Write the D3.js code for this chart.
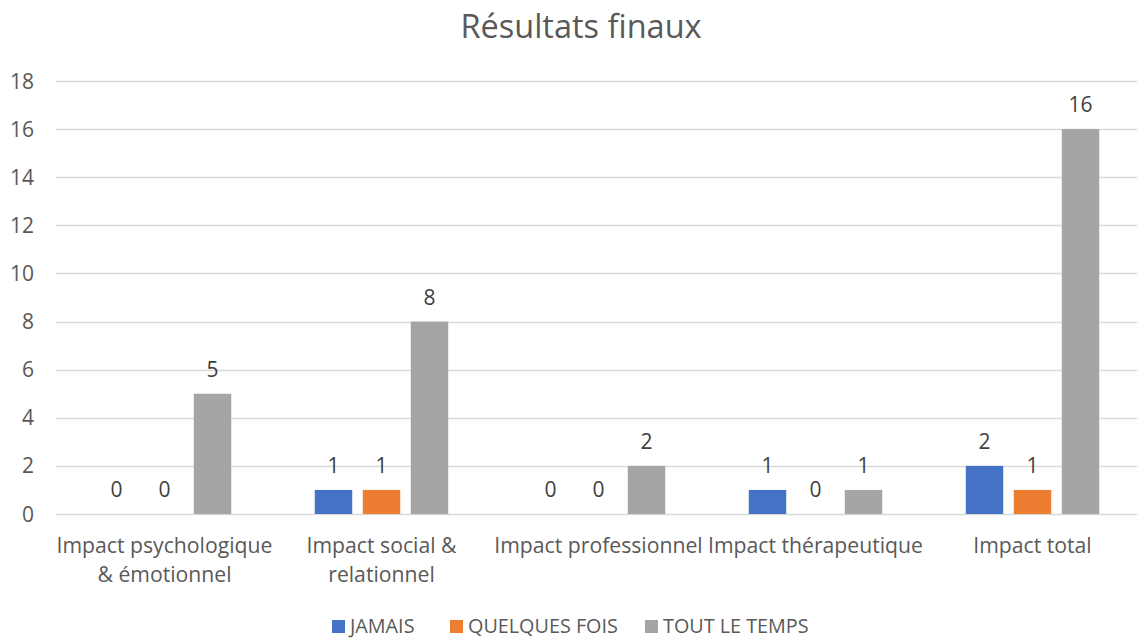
<!DOCTYPE html>
<html><head><meta charset="utf-8">
<script src="https://cdn.jsdelivr.net/npm/d3@7"></script>
<style>body{margin:0;background:#fff;} text{font-family:"Open Sans", "Noto Sans", sans-serif;}</style>
</head><body><svg id="c" width="1137" height="639"></svg>
<script>
const categories = [["Impact psychologique","& émotionnel"],["Impact social &","relationnel"],["Impact professionnel"],["Impact thérapeutique"],["Impact total"]];
const seriesNames = ["JAMAIS","QUELQUES FOIS","TOUT LE TEMPS"];
const jamais = [0,1,0,1,2];
const quelques = [0,1,0,0,1];
const toutLeTemps = [5,8,2,1,16];
const yTicks = [0,2,4,6,8,10,12,14,16,18];
const colors = ["#4472C4","#ED7D31","#A5A5A5"];
const series = [jamais, quelques, toutLeTemps];

const svg = d3.select("#c");
const pL = 56, pR = 1141, pT = 81, pB = 514;
const x = d3.scaleBand().domain(d3.range(categories.length)).range([pL,pR]).paddingInner(0).paddingOuter(0);
const y = d3.scaleLinear().domain([0,18]).range([pB, pT]);
const inner = d3.scaleBand().domain(d3.range(3)).range([0, x.bandwidth()]).paddingInner(0.22).paddingOuter(0.87);

svg.append("text").attr("x",581).attr("y",38).attr("text-anchor","middle").attr("font-size",32.5).attr("fill","#595959").text("Résultats finaux");

svg.append("g").selectAll("line").data(yTicks).join("line")
 .attr("x1",pL).attr("x2",1137).attr("y1",d=>Math.round(y(d))+0.5).attr("y2",d=>Math.round(y(d))+0.5)
 .attr("stroke","#D9D9D9").attr("stroke-width",1.3);
svg.append("g").selectAll("text").data(yTicks).join("text")
 .attr("x",34).attr("y",d=>y(d)+7.5).attr("text-anchor","end").attr("font-size",21).attr("fill","#595959").text(d=>d);

series.forEach((s,si)=>{
  const g = svg.append("g");
  g.selectAll("rect").data(s).join("rect")
   .attr("x",(d,i)=>x(i)+inner(si)).attr("width",inner.bandwidth())
   .attr("y",d=>y(d)).attr("height",d=>y(0)-y(d)).attr("fill",colors[si]);
  g.selectAll("text").data(s).join("text")
   .attr("x",(d,i)=>x(i)+inner(si)+inner.bandwidth()/2).attr("y",d=>y(d)-17)
   .attr("text-anchor","middle").attr("font-size",21).attr("fill","#404040").text(d=>d);
});

const cl = svg.append("g");
categories.forEach((lines,i)=>{
  lines.forEach((ln,j)=>{
    cl.append("text").attr("x",x(i)+x.bandwidth()/2).attr("y",553+j*28.5).attr("text-anchor","middle")
      .attr("font-size",21.2).attr("fill","#595959").text(ln);
  });
});

const legX = [332,450,645];
const lg = svg.append("g");
seriesNames.forEach((n,i)=>{
  lg.append("rect").attr("x",legX[i]).attr("y",620).attr("width",13).attr("height",13).attr("fill",colors[i]);
  lg.append("text").attr("x",legX[i]+18).attr("y",633).attr("font-size",19.8).attr("fill","#595959").text(n);
});
</script></body></html>
